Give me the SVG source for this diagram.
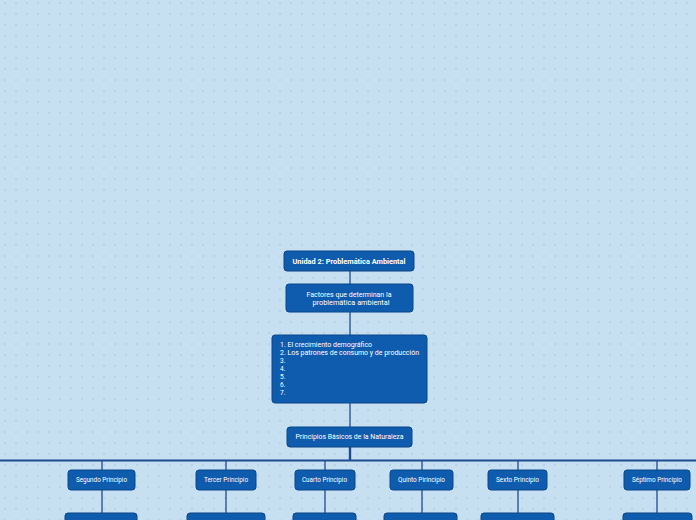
<svg xmlns="http://www.w3.org/2000/svg" width="696" height="520" viewBox="0 0 696 520">
<defs>
<pattern id="dots" x="0" y="0" width="11" height="11" patternUnits="userSpaceOnUse">
<circle cx="5" cy="3" r="0.9" fill="#b2cee6"/>
</pattern>
<style>
.node rect{fill:#0f5cae;stroke:#0a4688;stroke-width:1}
.t{font-family:Roboto,"Liberation Sans",sans-serif;fill:#ffffff;font-size:6.5px;dominant-baseline:central}
.c{text-anchor:middle}
.b{font-weight:bold;font-size:8px}
.conn line{stroke:#1f4b92;stroke-width:1.3}
</style>
</defs>
<rect width="696" height="520" fill="#c6dff1"/>
<rect width="696" height="520" fill="url(#dots)"/>
<g id="connectors" class="conn">
<line x1="350" y1="271" x2="350" y2="284"/>
<line x1="350" y1="312" x2="350" y2="335"/>
<line x1="350" y1="403" x2="350" y2="427"/>
<line x1="350" y1="447" x2="350" y2="460" style="stroke-width:2.4"/>
<line x1="0" y1="460.5" x2="696" y2="460.5" style="stroke-width:2"/>
<line x1="102" y1="460" x2="102" y2="470"/>
<line x1="226" y1="460" x2="226" y2="470"/>
<line x1="325" y1="460" x2="325" y2="470"/>
<line x1="422" y1="460" x2="422" y2="470"/>
<line x1="518" y1="460" x2="518" y2="470"/>
<line x1="657" y1="460" x2="657" y2="470"/>
<line x1="102" y1="490" x2="102" y2="513"/>
<line x1="226" y1="490" x2="226" y2="513"/>
<line x1="325" y1="490" x2="325" y2="513"/>
<line x1="422" y1="490" x2="422" y2="513"/>
<line x1="518" y1="490" x2="518" y2="513"/>
<line x1="657" y1="490" x2="657" y2="513"/>
</g>
<g id="n-unidad" class="node"><rect x="284" y="251" width="130" height="20" rx="3"/><text class="t c b" x="349" y="261" textLength="113" lengthAdjust="spacingAndGlyphs">Unidad 2: Problemática Ambiental</text></g>
<g id="n-factores" class="node"><rect x="286" y="284" width="127" height="28" rx="3"/><text class="t c" x="349" y="295" textLength="85" lengthAdjust="spacingAndGlyphs">Factores que determinan la</text><text class="t c" x="351" y="303" textLength="77" lengthAdjust="spacingAndGlyphs">problemática ambiental</text></g>
<g id="n-lista" class="node"><rect x="272" y="335" width="155" height="68" rx="3"/>
<text class="t" x="280" y="345.3" textLength="92" lengthAdjust="spacingAndGlyphs">1. El crecimiento demográfico</text>
<text class="t" x="280" y="353.3" textLength="139" lengthAdjust="spacingAndGlyphs">2. Los patrones de consumo y de producción</text>
<text class="t" x="280" y="361.3">3.</text>
<text class="t" x="280" y="369.3">4.</text>
<text class="t" x="280" y="377.3">5.</text>
<text class="t" x="280" y="385.3">6.</text>
<text class="t" x="280" y="393.3">7.</text>
</g>
<g id="n-principios" class="node"><rect x="287" y="427" width="125" height="20" rx="3"/><text class="t c" x="349.5" y="437" textLength="108" lengthAdjust="spacingAndGlyphs">Principios Básicos de la Naturaleza</text></g>
<g id="n-segundo" class="node"><rect x="68" y="470" width="67" height="20" rx="3"/><text class="t c" x="101.5" y="480" textLength="51" lengthAdjust="spacingAndGlyphs">Segundo Principio</text></g>
<g id="n-tercer" class="node"><rect x="196" y="470" width="60" height="20" rx="3"/><text class="t c" x="226" y="480" textLength="44" lengthAdjust="spacingAndGlyphs">Tercer Principio</text></g>
<g id="n-cuarto" class="node"><rect x="295" y="470" width="60" height="20" rx="3"/><text class="t c" x="324.5" y="480" textLength="45" lengthAdjust="spacingAndGlyphs">Cuarto Principio</text></g>
<g id="n-quinto" class="node"><rect x="390" y="470" width="63" height="20" rx="3"/><text class="t c" x="421.5" y="480" textLength="47" lengthAdjust="spacingAndGlyphs">Quinto Pirincipio</text></g>
<g id="n-sexto" class="node"><rect x="488" y="470" width="59" height="20" rx="3"/><text class="t c" x="517.5" y="480" textLength="43" lengthAdjust="spacingAndGlyphs">Sexto Principio</text></g>
<g id="n-septimo" class="node"><rect x="624" y="470" width="66" height="20" rx="3"/><text class="t c" x="657" y="480" textLength="50" lengthAdjust="spacingAndGlyphs">Séptimo Principio</text></g>
<g id="n-segundo-hijo" class="node"><rect x="65" y="513" width="72" height="20" rx="3"/></g>
<g id="n-tercer-hijo" class="node"><rect x="187" y="513" width="78" height="20" rx="3"/></g>
<g id="n-cuarto-hijo" class="node"><rect x="293" y="513" width="63" height="20" rx="3"/></g>
<g id="n-quinto-hijo" class="node"><rect x="384" y="513" width="73" height="20" rx="3"/></g>
<g id="n-sexto-hijo" class="node"><rect x="481" y="513" width="73" height="20" rx="3"/></g>
<g id="n-septimo-hijo" class="node"><rect x="623" y="513" width="69" height="20" rx="3"/></g>
</svg>
